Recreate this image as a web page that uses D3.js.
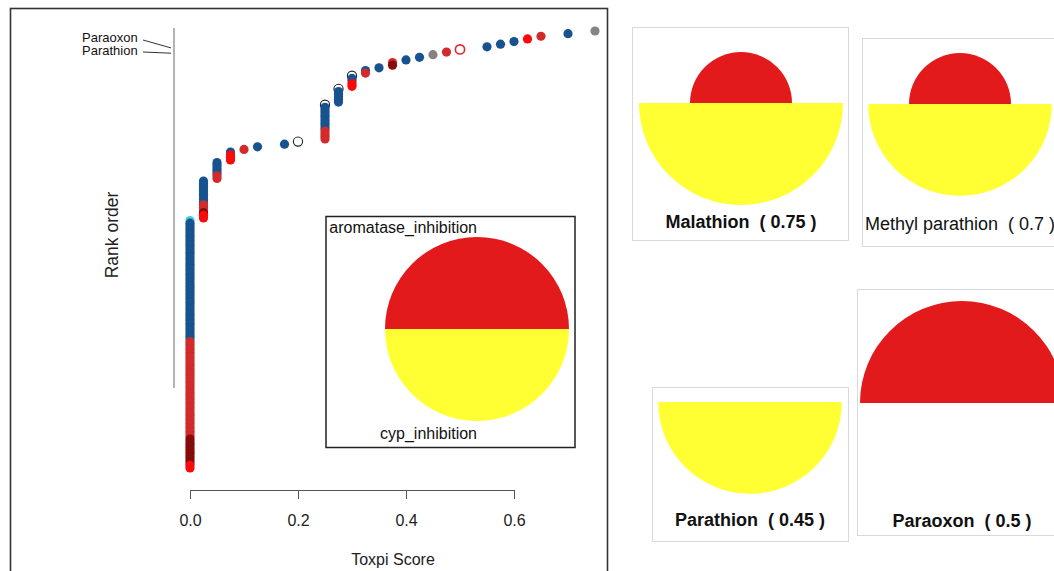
<!DOCTYPE html>
<html><head><meta charset="utf-8">
<script src="https://cdn.jsdelivr.net/npm/d3@7"></script>
<style>
body{margin:0;background:#fff;}
svg{display:block;font-family:"Liberation Sans",Arial,sans-serif;}
</style>
</head><body>
<svg width="1054" height="571"></svg>
<script>
// ---------- DATA ----------
const scoreLevels = [0, 0.025, 0.05, 0.075, 0.1, 0.125, 0.175, 0.2, 0.25, 0.275, 0.3, 0.325, 0.35, 0.375,
  0.4, 0.425, 0.45, 0.475, 0.5, 0.55, 0.575, 0.6, 0.625, 0.65, 0.7, 0.75];
// chemicals at each score level, listed from lowest rank upward: [class, count]
const levelMembers = [
  [["bright",2],["maroon",10],["red",37],["blue",45],["cyan",1]],
  [["bright",2],["maroon",1],["red",3],["blue",9]],
  [["red",2],["blue",5]],
  [["bright",3],["blue",1]],
  [["red",1]],
  [["blue",1]],
  [["blue",1]],
  [["open",1]],
  [["red",4],["blue",9],["open",1]],
  [["blue",5],["open",1]],
  [["bright",2],["blue",2],["open",1]],
  [["red",1],["blue",1]],
  [["blue",1]],
  [["maroon",1],["red",1]],
  [["blue",1]],
  [["blue",1]],
  [["gray",1]],
  [["red",1]],
  [["openred",1]],
  [["blue",1]],
  [["blue",1]],
  [["blue",1]],
  [["bright",1]],
  [["red",1]],
  [["blue",1]],
  [["gray",1]]
];
const xTicks = [0, 0.2, 0.4, 0.6];
const labelledChems = ["Paraoxon", "Parathion"];
const labelledScores = [0.5, 0.45];
const sliceNames = ["aromatase_inhibition", "cyp_inhibition"];
const sliceColors = ["#e31a1c", "#ffff33"];
const glyphNames = ["Malathion", "Methyl parathion", "Parathion", "Paraoxon"];
const glyphScores = [0.75, 0.7, 0.45, 0.5];
const aromataseValues = [0.5, 0.5, 0, 1];
const cypValues = [1, 0.9, 0.9, 0];

// ---------- BUILD ----------
const svg = d3.select("svg");
const points = [];
let rank = 0;
scoreLevels.forEach((s, i) => {
  levelMembers[i].forEach(([cls, n]) => {
    for (let k = 0; k < n; k++) { rank++; points.push({score: s, rank, cls}); }
  });
});
const N = rank;

const classes = ["blue","red","bright","maroon","gray","cyan","open","openred"];
const fillOf = d3.scaleOrdinal().domain(classes)
  .range(["#17538f","#d22b2b","#fa0a0a","#870b0b","#8a8282","#3fd3dc","none","none"]);
const strokeOf = d3.scaleOrdinal().domain(classes)
  .range(["none","none","none","none","none","none","#222","#e8262a"]);

const x = d3.scaleLinear().domain([0, 0.6]).range([190, 514]);
const y = d3.scaleLinear().domain([1, N]).range([468, 31]);

// main panel border
svg.append("rect").attr("x", 10.5).attr("y", 8.5).attr("width", 597).attr("height", 620)
  .attr("fill", "none").attr("stroke", "#333").attr("stroke-width", 1.6);

// rank axis line
svg.append("line").attr("x1", 174).attr("x2", 174).attr("y1", 28).attr("y2", 388)
  .attr("stroke", "#9a9a9a").attr("stroke-width", 1.5);

// labelled chemicals
const labelBaselines = [42, 55];
const leaderStarts = [40, 52];
labelledChems.forEach((name, i) => {
  const p = points.find(d => d.score === labelledScores[i]);
  svg.append("text").attr("x", 82).attr("y", labelBaselines[i]).attr("font-size", 13)
    .attr("fill", "#111").text(name);
  svg.append("line").attr("x1", 143).attr("y1", leaderStarts[i])
    .attr("x2", 171).attr("y2", y(p.rank) - 1.5)
    .attr("stroke", "#333").attr("stroke-width", 1);
});

// points (higher ranks first so lower ranks overlay)
svg.append("g").selectAll("circle").data(points.slice().reverse()).join("circle")
  .attr("cx", d => x(d.score)).attr("cy", d => y(d.rank)).attr("r", 4.6)
  .attr("fill", d => fillOf(d.cls)).attr("stroke", d => strokeOf(d.cls))
  .attr("stroke-width", d => d.cls === "openred" ? 1.6 : 1.1);

// x axis
const gx = svg.append("g").attr("transform", "translate(0,490)")
  .call(d3.axisBottom(x).tickValues(xTicks).tickFormat(d3.format(".1f"))
    .tickSize(9).tickSizeOuter(0).tickPadding(16))
  .attr("font-family", null).attr("font-size", 16);
gx.select(".domain").attr("stroke", "#555");
gx.selectAll(".tick line").attr("stroke", "#555");
gx.selectAll(".tick text").attr("fill", "#222");

svg.append("text").attr("x", 393).attr("y", 565).attr("text-anchor", "middle")
  .attr("font-size", 16).attr("fill", "#222").text("Toxpi Score");
svg.append("text").attr("transform", "translate(118,235) rotate(-90)").attr("text-anchor", "middle")
  .attr("font-size", 17.5).attr("fill", "#222").text("Rank order");

// inset legend
const pie = d3.pie().sort(null).value(() => 1).startAngle(-Math.PI / 2).endAngle(3 * Math.PI / 2);
svg.append("rect").attr("x", 326).attr("y", 216.5).attr("width", 249).attr("height", 231)
  .attr("fill", "#fff").attr("stroke", "#222").attr("stroke-width", 1.5);
const legendArcs = pie(sliceNames);
svg.append("g").attr("transform", "translate(477,329)").selectAll("path").data(legendArcs).join("path")
  .attr("d", d3.arc().innerRadius(0).outerRadius(92))
  .attr("fill", (d, i) => sliceColors[i]);
svg.append("text").attr("x", 477).attr("y", 233).attr("text-anchor", "end").attr("font-size", 16)
  .attr("fill", "#111").text(sliceNames[0]);
svg.append("text").attr("x", 477).attr("y", 439).attr("text-anchor", "end").attr("font-size", 16)
  .attr("fill", "#111").text(sliceNames[1]);

// glyph cards
const rGlyph = d3.scaleLinear().domain([0, 1]).range([0, 102]);
const cards = [
  {box: [632.5, 27.5, 216, 213], c: [741, 103], ly: 228, bold: true},
  {box: [862.5, 38.5, 215, 208], c: [960, 104], ly: 230, bold: false},
  {box: [652.5, 387.5, 196, 154], c: [750, 402], ly: 526, bold: true},
  {box: [857.5, 289.5, 215, 246], c: [962, 403], ly: 527, bold: true}
];
glyphNames.forEach((name, i) => {
  const cd = cards[i];
  svg.append("rect").attr("x", cd.box[0]).attr("y", cd.box[1]).attr("width", cd.box[2]).attr("height", cd.box[3])
    .attr("fill", "#fff").attr("stroke", "#d9d9d9").attr("stroke-width", 1);
  const vals = [aromataseValues[i], cypValues[i]];
  svg.append("g").attr("transform", `translate(${cd.c[0]},${cd.c[1]})`)
    .selectAll("path").data(pie(vals)).join("path")
    .attr("d", (d, j) => d3.arc().innerRadius(0).outerRadius(rGlyph(vals[j]))(d))
    .attr("fill", (d, j) => sliceColors[j]);
  svg.append("text").attr("x", cd.c[0]).attr("y", cd.ly).attr("text-anchor", "middle")
    .attr("font-size", 18).attr("font-weight", cd.bold ? "bold" : "normal")
    .attr("fill", "#111").style("white-space", "pre")
    .text(`${name}  ( ${glyphScores[i]} )`);
});
</script>
</body></html>
